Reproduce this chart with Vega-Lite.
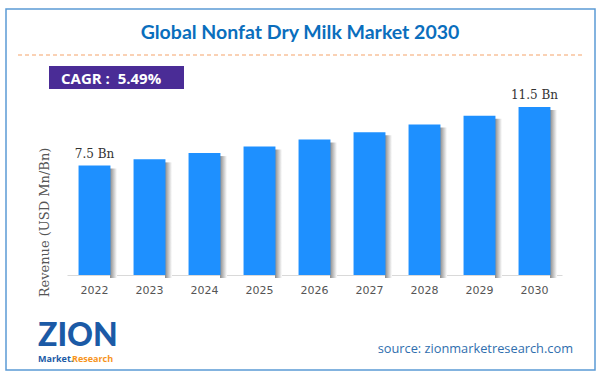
{
  "$schema": "https://vega.github.io/schema/vega-lite/v6.json",
  "width": 495,
  "height": 219,
  "autosize": "none",
  "padding": {"left": 67, "top": 56, "right": 41, "bottom": 103},
  "background": "white",
  "config": {"view": {"stroke": null}},
  "data": {
    "values": [
      {"year": "2022", "revenue": 7.5, "label": "7.5 Bn"},
      {"year": "2023", "revenue": 7.92, "label": ""},
      {"year": "2024", "revenue": 8.35, "label": ""},
      {"year": "2025", "revenue": 8.8, "label": ""},
      {"year": "2026", "revenue": 9.28, "label": ""},
      {"year": "2027", "revenue": 9.78, "label": ""},
      {"year": "2028", "revenue": 10.3, "label": ""},
      {"year": "2029", "revenue": 10.9, "label": ""},
      {"year": "2030", "revenue": 11.5, "label": "11.5 Bn"}
    ]
  },
  "layer": [
    {
      "data": {"values": [{}]},
      "mark": {"type": "rect", "fill": null, "stroke": "#5B9BD5", "strokeWidth": 1.5},
      "encoding": {"x": {"value": -61}, "x2": {"value": 528}, "y": {"value": -47}, "y2": {"value": 314}}
    },
    {
      "data": {"values": [{}]},
      "mark": {"type": "rule", "stroke": "#F5A36B", "strokeWidth": 1.2, "strokeDash": [4, 3]},
      "encoding": {"x": {"value": -49}, "x2": {"value": 516}, "y": {"value": -1}}
    },
    {
      "data": {"values": [{}]},
      "mark": {"type": "rect", "fill": "#4A2C96"},
      "encoding": {"x": {"value": -18}, "x2": {"value": 117}, "y": {"value": 10}, "y2": {"value": 33}}
    },
    {
      "data": {"values": [{"t": "CAGR :\u00a0 5.49%"}]},
      "mark": {"type": "text", "font": "Open Sans", "fontWeight": "bold", "fontSize": 15, "color": "white", "align": "left", "baseline": "alphabetic"},
      "encoding": {"x": {"value": -6}, "y": {"value": 28}, "text": {"field": "t"}}
    },
    {
      "data": {"values": [{"t": "Global Nonfat Dry Milk Market 2030"}]},
      "mark": {"type": "text", "font": "Lato", "fontWeight": "bold", "fontSize": 19.5, "color": "#0A6EBD", "align": "center", "baseline": "alphabetic"},
      "encoding": {"x": {"value": 233}, "y": {"value": -17}, "text": {"field": "t"}}
    },
    {
      "data": {"values": [{"t": "ZION"}]},
      "mark": {"type": "text", "font": "Lato", "fontWeight": "900", "fontSize": 32, "color": "#1B5AA6", "align": "left", "baseline": "alphabetic"},
      "encoding": {"x": {"value": -29}, "y": {"value": 290}, "text": {"field": "t"}}
    },
    {
      "data": {"values": [{"t": "Market."}]},
      "mark": {"type": "text", "font": "Open Sans", "fontWeight": "bold", "fontSize": 9, "color": "#1B5AA6", "align": "left", "baseline": "alphabetic"},
      "encoding": {"x": {"value": -29}, "y": {"value": 306}, "text": {"field": "t"}}
    },
    {
      "data": {"values": [{"t": "Research"}]},
      "mark": {"type": "text", "font": "Open Sans", "fontWeight": "bold", "fontSize": 9, "color": "#F7941D", "align": "left", "baseline": "alphabetic"},
      "encoding": {"x": {"value": 5}, "y": {"value": 306}, "text": {"field": "t"}}
    },
    {
      "data": {"values": [{"t": "source: zionmarketresearch.com"}]},
      "mark": {"type": "text", "font": "Open Sans", "fontSize": 12.8, "color": "#2F6EAE", "align": "right", "baseline": "alphabetic"},
      "encoding": {"x": {"value": 506}, "y": {"value": 297}, "text": {"field": "t"}}
    },
    {
      "mark": {
        "type": "bar",
        "width": 7,
        "xOffset": 19,
        "yOffset": 3,
        "fill": {"gradient": "linear", "x1": 0, "x2": 1, "y1": 0, "y2": 0, "stops": [{"offset": 0, "color": "#8a8a8a"}, {"offset": 1, "color": "#ffffff"}]}
      },
      "encoding": {
        "x": {
          "field": "year", "type": "nominal",
          "scale": {"paddingInner": 0.42, "paddingOuter": 0.21},
          "axis": {"title": null, "labelAngle": 0, "labelFont": "DejaVu Sans", "labelFontSize": 11, "labelColor": "#555555", "ticks": false, "domainColor": "#D9D9D9", "labelPadding": 9}
        },
        "y": {
          "field": "revenue", "type": "quantitative",
          "scale": {"domain": [0, 15], "nice": false},
          "axis": {"title": "Revenue (USD Mn/Bn)", "labels": false, "ticks": false, "domain": false, "grid": false, "titleFont": "DejaVu Serif", "titleFontSize": 13, "titleFontWeight": "normal", "titleColor": "#555555", "titleAngle": 270, "titleX": -23, "titleY": 166, "titleAlign": "center", "titleBaseline": "middle"}
        }
      }
    },
    {
      "mark": {"type": "bar", "color": "#1E90FF"},
      "encoding": {
        "x": {"field": "year", "type": "nominal"},
        "y": {"field": "revenue", "type": "quantitative"}
      }
    },
    {
      "mark": {"type": "text", "font": "DejaVu Serif", "fontSize": 12, "color": "#333333", "baseline": "alphabetic", "dy": -8},
      "encoding": {
        "x": {"field": "year", "type": "nominal"},
        "y": {"field": "revenue", "type": "quantitative"},
        "text": {"field": "label"}
      }
    }
  ]
}
